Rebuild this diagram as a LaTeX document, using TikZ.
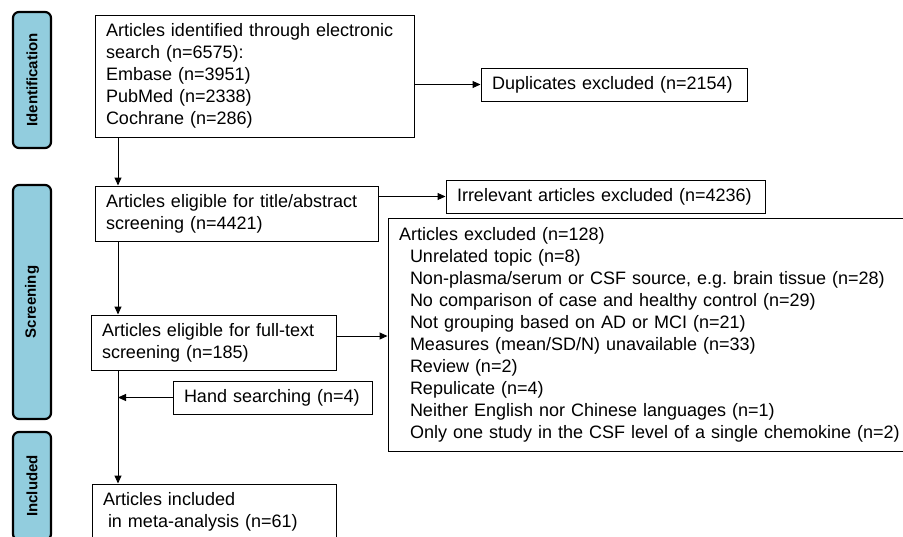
\documentclass[tikz,border=0pt]{standalone}
\usepackage{fontspec}
\setmainfont{Liberation Sans}
\usetikzlibrary{arrows.meta}
\definecolor{stageblue}{RGB}{146,205,222}
\frenchspacing

\begin{document}
\begin{tikzpicture}[x=1pt,y=-1pt]
\tikzset{
  stagelabel/.style={draw=black,line width=2.2pt,rounded corners=6pt,fill=stageblue,rotate=90,minimum height=38pt,inner sep=0pt,font=\fontsize{15}{18}\selectfont\bfseries},
  flowbox/.style={draw=black,line width=1pt,align=left,inner xsep=11pt,inner ysep=0pt,font=\fontsize{18}{22}\selectfont},
  flowline/.style={draw=black,line width=1pt},
  flowarrow/.style={flowline,-{Triangle[length=8pt,width=7pt]}}
}
\useasboundingbox (0,0) rectangle (903,536);
% stage labels
\node[stagelabel,minimum width=136pt] (s_ident) at (32,80) {Identification};
\node[stagelabel,minimum width=234pt] (s_screen) at (32,302) {Screening};
\node[stagelabel,minimum width=108pt] (s_incl) at (32,486) {Included};
% boxes
\node[flowbox,text width=297pt,minimum height=122pt] (n_search) at (254.5,76)
  {Articles identified through electronic\\search (n=6575):\\Embase (n=3951)\\PubMed (n=2338)\\Cochrane (n=286)};
\node[flowbox,text width=244pt,minimum height=33pt] (n_dup) at (614,84.5) {Duplicates excluded (n=2154)};
\node[flowbox,text width=261pt,minimum height=55pt] (n_title) at (236.5,213.5)
  {Articles eligible for title/abstract\\screening (n=4421)};
\node[flowbox,text width=297pt,minimum height=33pt] (n_irrel) at (605.5,196.5) {Irrelevant articles excluded (n=4236)};
\node[flowbox,text width=520pt,minimum height=233pt] (n_excl) at (659,334.5)
  {Articles excluded (n=128)\\
   \hspace*{11pt}Unrelated topic (n=8)\\
   \hspace*{11pt}Non-plasma/serum or CSF source, e.g. brain tissue (n=28)\\
   \hspace*{11pt}No comparison of case and healthy control (n=29)\\
   \hspace*{11pt}Not grouping based on AD or MCI (n=21)\\
   \hspace*{11pt}Measures (mean/SD/N) unavailable (n=33)\\
   \hspace*{11pt}Review (n=2)\\
   \hspace*{11pt}Repulicate (n=4)\\
   \hspace*{11pt}Neither English nor Chinese languages (n=1)\\
   \hspace*{11pt}Only one study in the CSF level of a single chemokine (n=2)};
\node[flowbox,text width=223pt,minimum height=55pt] (n_full) at (213.5,342.5)
  {Articles eligible for full-text\\screening (n=185)};
\node[flowbox,text width=177pt,minimum height=33pt] (n_hand) at (272.5,397.5) {Hand searching (n=4)};
\node[flowbox,text width=222pt,minimum height=55pt] (n_incl) at (214,511.5)
  {Articles included\\\hspace*{5pt}in meta-analysis (n=61)};
% connectors
\coordinate (trunk) at (118,0);
\draw[flowarrow] (n_search.east |- n_dup.west) -- (n_dup.west);
\draw[flowarrow] (n_search.south -| trunk) -- (n_title.north -| trunk);
\draw[flowarrow] (n_title.east |- n_irrel.west) -- (n_irrel.west);
\draw[flowarrow] (n_title.south -| trunk) -- (n_full.north -| trunk);
\draw[flowarrow] ([yshift=6.5pt]n_full.east) -- ([yshift=6.5pt]n_full.east -| n_excl.west);
\draw[flowarrow] (n_full.south -| trunk) -- (n_incl.north -| trunk);
\draw[flowarrow] (n_hand.west) -- (n_hand.west -| trunk);
\end{tikzpicture}
\end{document}
